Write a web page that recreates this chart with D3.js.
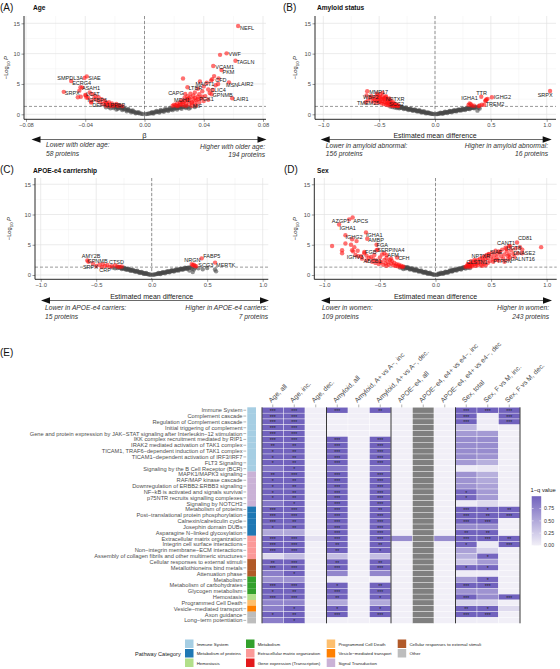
<!DOCTYPE html>
<html><head><meta charset="utf-8">
<script src="https://cdn.jsdelivr.net/npm/d3@7"></script>
<style>body{margin:0;background:#fff}svg{display:block}</style>
</head><body><svg id="c" width="560" height="669"></svg>
<script>
// ================= DATA =================
// Panel A: Age (beta, -log10 P)
const ageGrey = [[-0.001,0.03],[-0.002,0.08],[-0.003,0.15],[-0.004,0.2],[-0.005,0.28],[-0.006,0.3],[-0.007,0.42],[-0.008,0.45],[-0.009,0.55],[-0.010,0.6],[-0.011,0.7],[-0.012,0.72],[-0.013,0.85],[-0.014,0.88],[-0.015,0.95],[-0.016,1.0],[-0.017,1.1],[-0.018,1.15],[-0.019,1.2],[-0.020,1.25],[-0.021,1.28],[-0.006,0.18],[-0.009,0.35],[-0.012,0.5],[-0.015,0.7],[-0.018,0.9],[-0.021,1.05],[-0.024,1.2],[-0.004,0.35],[-0.008,0.62],[-0.011,0.9],[-0.014,1.12],[-0.016,1.25],[-0.023,1.0],[-0.026,1.15],[-0.019,0.8],
[0.001,0.04],[0.002,0.07],[0.003,0.12],[0.004,0.18],[0.005,0.22],[0.006,0.28],[0.007,0.33],[0.008,0.38],[0.009,0.42],[0.010,0.48],[0.011,0.5],[0.012,0.56],[0.013,0.6],[0.014,0.66],[0.015,0.7],[0.016,0.74],[0.017,0.8],[0.018,0.84],[0.019,0.9],[0.020,0.94],[0.021,1.0],[0.022,1.03],[0.023,1.08],[0.024,1.12],[0.025,1.17],[0.026,1.2],[0.027,1.25],[0.028,1.28],[0.005,0.35],[0.008,0.55],[0.011,0.72],[0.014,0.9],[0.017,1.05],[0.020,1.2],[0.023,1.28],[0.006,0.12],[0.010,0.3],[0.013,0.42],[0.016,0.55],[0.019,0.68],[0.022,0.8],[0.025,0.92],[0.028,1.02],[0.031,1.12],[0.034,1.2],[0.030,0.95],[0.029,1.22]];
const ageRed = [[0.019,1.4],[0.020,1.6],[0.021,1.5],[0.022,1.8],[0.023,1.45],[0.024,2.0],[0.025,1.7],[0.025,2.3],[0.026,1.5],[0.027,2.1],[0.027,2.7],[0.028,1.8],[0.029,2.4],[0.029,3.0],[0.030,1.6],[0.030,2.2],[0.031,2.8],[0.031,3.4],[0.032,2.0],[0.033,2.5],[0.033,3.1],[0.034,1.9],[0.034,3.6],[0.035,2.3],[0.036,2.9],[0.036,4.2],[0.037,3.3],[0.038,2.6],[0.039,3.8],[0.040,4.6],[0.041,3.0],[0.042,5.2],[0.044,3.5],[0.045,5.6],[0.047,6.3],[0.048,4.8],[0.050,5.9],[0.026,5.9],[0.051,9.8],[0.040,2.2],[0.035,1.5],[0.032,1.4],[0.022,1.35],[0.024,1.6],[0.028,1.4],[0.030,2.6],[0.026,2.0],[0.034,2.7],[0.037,2.0],[0.039,2.9],[0.043,2.4],[0.046,4.0],
[-0.015,1.35],[-0.017,1.5],[-0.018,1.4],[-0.019,1.7],[-0.020,1.55],[-0.021,1.4],[-0.022,1.8],[-0.023,1.6],[-0.024,2.0],[-0.025,1.5],[-0.026,1.9],[-0.027,2.2],[-0.028,1.7],[-0.029,2.5],[-0.030,2.0],[-0.031,2.8],[-0.032,2.3],[-0.033,3.0],[-0.034,2.6],[-0.035,3.3],[-0.036,2.1],[-0.037,3.6],[-0.040,3.2],[-0.042,4.4],[-0.043,2.9],[-0.044,3.9],[-0.045,2.8],[-0.038,2.7],[-0.023,1.35],[-0.026,1.45]];
const ageLabelled = [["NEFL",0.0632,14.55],["VWF",0.0554,10.05],["TAGLN",0.0614,8.83],["VCAM1",0.0464,7.96],["PKM",0.052,7.3],["LAIR2",0.057,5.27],["CFD",0.0457,5.77],["MSN",0.0497,5.0],["MAGT1",0.0374,5.4],["LTBR",0.029,4.45],["CLIC4",0.043,4.1],["GPNMB",0.0453,3.3],["PGK1",0.0359,2.5],["LAIR1",0.0592,2.65],["MIF",0.0319,1.9],["CAPG",0.0275,3.35],["MDH1",0.0285,2.5],
["SMPDL3A",-0.0405,6.0],["SIAE",-0.039,6.25],["ECRG4",-0.0495,5.5],["ASAH1",-0.0432,4.45],["SRPX",-0.0545,3.7],["LCAT",-0.0395,3.1],["IGFBP6",-0.0392,2.75],["DEFA1",-0.036,1.95],["PPBP",-0.025,1.8]];

// Panel B: Amyloid status (estimated mean difference, -log10 P)
const amyGrey = [[-0.01,0.03],[-0.02,0.07],[-0.03,0.1],[-0.04,0.14],[-0.05,0.17],[-0.06,0.2],[-0.07,0.25],[-0.08,0.28],[-0.09,0.32],[-0.10,0.35],[-0.11,0.4],[-0.12,0.42],[-0.13,0.47],[-0.14,0.5],[-0.15,0.54],[-0.16,0.57],[-0.17,0.62],[-0.18,0.64],[-0.19,0.69],[-0.20,0.72],[-0.21,0.76],[-0.22,0.8],[-0.23,0.84],[-0.24,0.86],[-0.25,0.9],[-0.26,0.95],[-0.27,0.98],[-0.28,1.02],[-0.29,1.06],[-0.30,1.1],[-0.31,1.13],[-0.32,1.18],[-0.33,1.21],[-0.34,1.25],[-0.35,1.28],[-0.06,0.3],[-0.10,0.5],[-0.14,0.66],[-0.18,0.82],[-0.22,0.98],[-0.26,1.12],[-0.30,1.25],[-0.08,0.15],[-0.12,0.3],[-0.16,0.45],[-0.20,0.58],[-0.24,0.72],[-0.28,0.88],[-0.32,1.0],[-0.36,1.12],[-0.38,1.2],[-0.40,1.27],[-0.34,1.05],
[0.01,0.03],[0.02,0.06],[0.03,0.09],[0.04,0.13],[0.05,0.16],[0.06,0.19],[0.07,0.22],[0.08,0.26],[0.09,0.29],[0.10,0.32],[0.11,0.36],[0.12,0.38],[0.13,0.42],[0.14,0.45],[0.15,0.48],[0.16,0.52],[0.17,0.55],[0.18,0.58],[0.19,0.61],[0.20,0.64],[0.21,0.68],[0.22,0.7],[0.23,0.74],[0.24,0.77],[0.25,0.8],[0.26,0.84],[0.27,0.86],[0.28,0.9],[0.29,0.93],[0.30,0.96],[0.31,1.0],[0.32,1.02],[0.33,1.06],[0.34,1.1],[0.35,1.12],[0.36,1.16],[0.37,1.2],[0.05,0.28],[0.09,0.42],[0.13,0.55],[0.17,0.68],[0.21,0.82],[0.25,0.95],[0.29,1.08],[0.33,1.2],[0.07,0.1],[0.11,0.22],[0.15,0.35],[0.19,0.48],[0.23,0.6],[0.27,0.72],[0.31,0.85],[0.35,0.98],[0.39,1.1],[0.40,0.95],[0.38,0.6]];
const amyRed = [[-0.55,2.6],[-0.53,2.9],[-0.52,2.3],[-0.51,3.1],[-0.50,2.7],[-0.50,2.0],[-0.49,3.3],[-0.48,2.5],[-0.48,1.8],[-0.47,2.9],[-0.47,2.2],[-0.46,2.6],[-0.46,1.7],[-0.45,2.4],[-0.45,2.0],[-0.44,2.8],[-0.44,1.6],[-0.43,2.2],[-0.43,1.8],[-0.42,2.5],[-0.42,1.5],[-0.41,2.0],[-0.41,1.7],[-0.40,2.3],[-0.40,1.5],[-0.39,1.9],[-0.39,1.6],[-0.38,2.1],[-0.38,1.4],[-0.37,1.7],[-0.37,1.5],[-0.36,1.8],[-0.36,1.4],[-0.35,1.6],[-0.34,1.45],[-0.33,1.5],[-0.33,1.35],[-0.56,2.1],[-0.54,2.4],[-0.58,2.7],[-0.60,2.3],[-0.62,2.0],[-0.53,1.9],[-0.51,2.5],[-0.49,2.8],[-0.57,3.0],[-0.52,3.4],[-0.47,3.5],[-0.44,3.0],[-0.41,2.6],
[0.33,1.45],[0.30,1.55],[0.32,1.65],[0.40,1.45],[0.39,1.35],[0.455,2.3],[0.47,2.55],[0.46,2.45],[0.45,2.2],[0.42,1.6],[0.35,1.4]];
const amyLabelled = [["MMP17",-0.607,3.8],["WBP2",-0.613,3.1],["TMEM25",-0.49,2.1],["NPTXR",-0.449,2.65],["SCG2",-0.42,1.9],["IGHA1",0.31,1.8],["TTR",0.414,2.9],["IGHG2",0.509,2.8],["TREM2",0.44,1.55],["SRPX",1.03,3.85]];

// Panel C: APOE-e4 carriership
const apoeGrey = [[-0.01,0.04],[-0.02,0.08],[-0.03,0.13],[-0.04,0.17],[-0.05,0.21],[-0.06,0.26],[-0.07,0.3],[-0.08,0.34],[-0.09,0.39],[-0.10,0.43],[-0.11,0.47],[-0.12,0.52],[-0.13,0.56],[-0.14,0.6],[-0.15,0.65],[-0.16,0.69],[-0.17,0.73],[-0.18,0.78],[-0.19,0.82],[-0.20,0.86],[-0.21,0.9],[-0.22,0.95],[-0.23,0.99],[-0.24,1.03],[-0.25,1.08],[-0.26,1.12],[-0.27,1.16],[-0.28,1.21],[-0.29,1.25],[-0.30,1.28],[-0.05,0.35],[-0.09,0.52],[-0.13,0.7],[-0.17,0.88],[-0.21,1.05],[-0.25,1.22],[-0.07,0.18],[-0.11,0.35],[-0.15,0.52],[-0.19,0.68],[-0.23,0.85],[-0.27,1.0],[-0.31,1.15],[-0.33,1.1],[-0.35,1.22],
[0.01,0.04],[0.02,0.07],[0.03,0.11],[0.04,0.14],[0.05,0.18],[0.06,0.22],[0.07,0.25],[0.08,0.29],[0.09,0.32],[0.10,0.36],[0.11,0.4],[0.12,0.43],[0.13,0.47],[0.14,0.5],[0.15,0.54],[0.16,0.58],[0.17,0.61],[0.18,0.65],[0.19,0.68],[0.20,0.72],[0.21,0.76],[0.22,0.79],[0.23,0.83],[0.24,0.86],[0.25,0.9],[0.26,0.94],[0.27,0.97],[0.28,1.01],[0.29,1.04],[0.30,1.08],[0.31,1.12],[0.32,1.15],[0.33,1.19],[0.34,1.22],[0.35,1.26],[0.06,0.32],[0.10,0.48],[0.14,0.62],[0.18,0.78],[0.22,0.92],[0.26,1.06],[0.30,1.2],[0.08,0.16],[0.12,0.3],[0.16,0.44],[0.20,0.58],[0.24,0.72],[0.28,0.86],[0.32,1.0],[0.36,1.1],[0.38,0.9],[0.39,1.2],[0.42,1.1],[0.46,0.95],[0.50,1.15],[0.57,0.9],[0.58,0.6],[0.34,0.75],[0.37,0.5]];
const apoeRed = [[-0.53,1.9],[-0.47,1.7],[-0.44,1.8],[-0.42,1.5],[-0.36,1.45],[-0.33,1.6],[-0.31,1.4],[-0.29,1.35],[-0.27,1.4],[-0.38,1.35],[0.37,1.6],[0.38,1.7],[0.40,1.45]];
const apoeLabelled = [["AMY2B",-0.58,2.4],["GPNMB",-0.57,2.2],["CTSD",-0.40,1.65],["SRPX",-0.50,1.5],["CRP",-0.45,1.3],["NRGN",0.36,1.8],["SCG3",0.39,1.5],["FABP5",0.45,2.75],["MERTK",0.571,2.05]];

// Panel D: Sex
const sexGrey = [[-0.01,0.05],[-0.02,0.09],[-0.03,0.14],[-0.04,0.18],[-0.05,0.23],[-0.06,0.28],[-0.07,0.32],[-0.08,0.37],[-0.09,0.41],[-0.10,0.46],[-0.11,0.5],[-0.12,0.55],[-0.13,0.6],[-0.14,0.64],[-0.15,0.69],[-0.16,0.73],[-0.17,0.78],[-0.18,0.82],[-0.19,0.87],[-0.20,0.92],[-0.21,0.96],[-0.22,1.01],[-0.23,1.05],[-0.24,1.1],[-0.25,1.15],[-0.26,1.19],[-0.27,1.24],[-0.28,1.28],[-0.05,0.38],[-0.09,0.56],[-0.13,0.75],[-0.17,0.94],[-0.21,1.12],[-0.25,1.28],[-0.07,0.18],[-0.11,0.36],[-0.15,0.55],[-0.19,0.72],[-0.23,0.9],[-0.27,1.06],[-0.30,1.18],[-0.32,1.25],[-0.29,0.98],
[0.01,0.05],[0.02,0.09],[0.03,0.14],[0.04,0.19],[0.05,0.23],[0.06,0.28],[0.07,0.33],[0.08,0.37],[0.09,0.42],[0.10,0.47],[0.11,0.51],[0.12,0.56],[0.13,0.61],[0.14,0.65],[0.15,0.7],[0.16,0.75],[0.17,0.8],[0.18,0.84],[0.19,0.89],[0.20,0.94],[0.21,0.98],[0.22,1.03],[0.23,1.08],[0.24,1.12],[0.25,1.17],[0.26,1.22],[0.27,1.26],[0.05,0.37],[0.09,0.55],[0.13,0.74],[0.17,0.93],[0.21,1.1],[0.25,1.27],[0.07,0.2],[0.11,0.38],[0.15,0.56],[0.19,0.74],[0.23,0.92],[0.27,1.08],[0.29,1.2],[0.31,1.15],[0.03,0.25],[0.15,0.85]];
const sexRed = [[-0.93,4.8],[-0.84,4.1],[-0.84,3.6],[-0.76,5.0],[-0.75,4.1],[-0.74,3.9],[-0.72,3.3],[-0.70,4.0],[-0.67,3.1],[-0.64,3.6],[-0.62,3.2],[-0.60,2.8],[-0.58,3.0],[-0.56,2.6],[-0.55,3.3],[-0.53,2.4],[-0.52,4.2],[-0.50,2.9],[-0.49,2.1],[-0.48,3.4],[-0.46,2.5],[-0.45,1.9],[-0.44,2.8],[-0.43,2.2],[-0.42,1.7],[-0.41,2.5],[-0.40,1.9],[-0.39,2.3],[-0.38,1.6],[-0.37,2.0],[-0.36,1.5],[-0.35,1.8],[-0.34,1.45],[-0.33,1.7],[-0.32,1.4],[-0.31,1.55],[-0.30,1.35],[-0.29,1.4],[-0.47,1.7],[-0.51,1.8],[-0.54,2.0],[-0.57,2.2],[-0.62,2.4],[-0.66,2.7],[-0.71,5.6],[-0.75,5.9],[-0.73,4.6],[-0.81,5.2],[-0.46,3.6],[-0.40,2.7],[-0.44,1.5],
[0.27,1.35],[0.28,1.5],[0.29,1.4],[0.30,1.7],[0.31,1.55],[0.32,1.9],[0.33,1.6],[0.34,2.1],[0.35,1.8],[0.36,2.3],[0.37,1.9],[0.38,2.5],[0.39,2.0],[0.40,2.7],[0.41,2.2],[0.42,2.9],[0.43,2.4],[0.44,3.1],[0.45,2.6],[0.46,3.3],[0.47,2.8],[0.48,3.5],[0.49,2.3],[0.50,3.0],[0.51,3.7],[0.52,2.6],[0.53,3.3],[0.54,4.0],[0.55,2.9],[0.56,3.5],[0.57,2.4],[0.58,3.8],[0.59,3.1],[0.60,4.2],[0.61,2.7],[0.62,3.4],[0.63,4.5],[0.64,3.9],[0.65,3.2],[0.66,4.8],[0.67,2.9],[0.68,4.1],[0.70,3.5],[0.71,3.0],[0.72,4.4],[0.76,4.6],[0.78,3.6],[0.31,1.35],[0.33,1.45],[0.36,1.5],[0.38,1.6],[0.41,1.7],[0.44,1.9],[0.47,2.0],[0.52,2.2],[0.57,3.9],[0.62,2.2],[0.35,2.5],[0.42,1.5],[0.29,1.8],[0.45,1.6],[0.95,4.6],[0.78,4.2],[0.74,3.6]];
const sexLabelled = [["AZGP1",-0.776,9.2],["APCS",-0.745,9.5],["IGHA1",-0.867,8.35],["IGHG2",-0.81,6.56],["IGHA1 ",-0.625,7.04],["AMBP",-0.614,5.98],["FGA",-0.53,5.0],["SERPINA4",-0.53,4.1],["IGHV3",-0.695,3.1],["FGB",-0.64,3.8],["AFM",-0.44,3.28],["CFH",-0.345,2.9],["ABCB1",-0.5,2.2],
["CD81",0.733,5.36],["CANT1",0.671,4.75],["UGT8",0.638,4.3],["DNASE2",0.663,3.4],["GALNT16",0.653,2.6],["SIAE",0.48,3.4],["NPTXR",0.32,2.3],["CLSTN1",0.30,1.8],["PTPRN",0.55,2.5]];

const volcanoYTicks = [0, 5, 10, 15];
const ageXTicks = [-0.08, -0.04, 0, 0.04, 0.08];
const diffXTicks = [-1, -0.5, 0, 0.5, 1];

// Panel E: pathway enrichment heatmap
const pathways = ["Immune System","Complement cascade","Regulation of Complement cascade","Initial triggering of complement","Gene and protein expression by JAK\u2212STAT signaling after Interleukin\u221212 stimulation","IKK complex recruitment mediated by RIP1","IRAK2 mediated activation of TAK1 complex","TICAM1, TRAF6\u2212dependent induction of TAK1 complex","TICAM1\u2212dependent activation of IRF3/IRF7","FLT3 Signaling","Signaling by the B Cell Receptor (BCR)","MAPK1/MAPK3 signaling","RAF/MAP kinase cascade","Downregulation of ERBB2:ERBB3 signaling","NF\u2212kB is activated and signals survival","p75NTR recruits signalling complexes","Signaling by NOTCH3","Metabolism of proteins","Post\u2212translational protein phosphorylation","Calnexin/calreticulin cycle","Josephin domain DUBs","Asparagine N\u2212linked glycosylation","Extracellular matrix organization","Integrin cell surface interactions","Non\u2212integrin membrane\u2212ECM interactions","Assembly of collagen fibrils and other multimeric structures","Cellular responses to external stimuli","Metallothioneins bind metals","Attenuation phase","Metabolism","Metabolism of carbohydrates","Glycogen metabolism","Hemostasis","Programmed Cell Death","Vesicle\u2212mediated transport","Axon guidance","Long\u2212term potentiation"];
const pathwayCategory = ["Immune System","Immune System","Immune System","Immune System","Immune System","Immune System","Immune System","Immune System","Immune System","Immune System","Immune System","Signal Transduction","Signal Transduction","Signal Transduction","Signal Transduction","Signal Transduction","Signal Transduction","Metabolism of proteins","Metabolism of proteins","Metabolism of proteins","Metabolism of proteins","Metabolism of proteins","Extracellular matrix organization","Extracellular matrix organization","Extracellular matrix organization","Extracellular matrix organization","Cellular responses to external stimuli","Cellular responses to external stimuli","Cellular responses to external stimuli","Metabolism","Metabolism","Metabolism","Hemostasis","Programmed Cell Death","Vesicle\u2212mediated transport","Other","Other"];
const comparisons = ["Age, all","Age, inc.","Age, dec.","Amyloid, all","Amyloid, A+ vs A\u2212, inc","Amyloid, A+ vs A\u2212, dec.","APOE\u2212e4, all","APOE\u2212e4, e4+ vs e4\u2212, inc","APOE\u2212e4, e4+ vs e4\u2212, dec","Sex, total","Sex, F vs M, inc.","Sex, F vs M, dec."];
// 1 - q value per pathway (rows) x comparison (columns); null = not available
const oneMinusQ = [
[1,1,0,1,0,1,0,null,0,1,1,1],
[1,1,0,0,0,0,0,null,0,1,0.02,1],
[1,1,0,0,0,0,0,null,0,1,0.02,1],
[1,1,0,0,0,0,0,null,0,0.4,0,0],
[1,1,0,0,0,0,0,null,0,0.6,0.6,0],
[1,1,0,1,0,1,0,null,0,0.7,0.7,0],
[1,1,0,1,0,1,0,null,0,0.7,0.7,0],
[1,1,0,1,0,1,0,null,0,0.7,0.7,0],
[1,1,0,1,0,1,0,null,0,0.7,0.65,0],
[1,1,0,1,0,1,0,null,0,0.6,0.45,0],
[0.85,1,0,0.85,0,0.85,0,null,0,0.02,0.05,0],
[1,1,0,1,0,1,0,null,0,0.65,0.45,0],
[1,1,0,1,0,1,0,null,0,0.65,0.5,0],
[1,1,0,1,0,1,0,null,0,0.65,0.55,0],
[1,1,0,1,0,1,0,null,0,0.97,0.6,0],
[1,1,0,1,0,1,0,null,0,0.97,0.6,0],
[0.85,1,0,1,0,1,0,null,0,0.03,0.15,0],
[1,1,0,1,0,1,0,null,0,1,0.97,0.99],
[1,1,0,1,0,1,0,null,0,1,1,1],
[1,1,0,1,0,1,0,null,0,1,1,0],
[1,1,0,1,0,1,0,null,0,0.7,0.7,0],
[0.5,0.5,0,1,0,1,0,null,0,1,1,0],
[1,1,0.1,1,0,1,0.7,null,0.7,1,1,0.99],
[1,1,0,1,0,1,0,null,0,0.97,0.03,1],
[1,1,0,1,0,1,0,null,0,0.55,0.2,0],
[0.15,0.35,0,0.35,0,0.35,0,null,0,0.45,0.97,0],
[1,1,0,1,0,1,0,null,0,0.3,0.6,0],
[1,1,0,1,0,1,0,null,0,0.97,0.97,0],
[0.8,1,0,0.75,0,0.75,0,null,0,0.02,0.02,0],
[0.65,0.65,0,0.02,0,0.02,0,null,0,0.6,0.97,0],
[1,1,0,1,0,1,0,null,0,1,1,0],
[1,1,0,1,0,1,0,null,0,0.65,0.65,0],
[1,1,0,1,0,1,0,null,0,1,0.7,1],
[0.75,0.75,0,0.5,0,0.5,0,null,0,0.2,0.2,0],
[0.8,1,0,1,0,1,0,null,0,1,1,0.15],
[1,1,0,1,0,1,0,null,0,1,1,0],
[0.8,1,0,0,0,0,0,null,0,0.02,0.02,0]];
const stars = [
"***|***||***||**||||***|***|***",
"***|***||||||||***||***",
"***|***||||||||***||***",
"***|***||||||||||",
"***|***||||||||||",
"***|***||***||***||||||",
"**|**||***||***||||||",
"*|**||***||***||||||",
"*|**||***||***||||||",
"*|**||***||***||||||",
"|*||||||||||",
"**|***||***||***||||||",
"*|**||***||***||||||",
"*|**||***||***||||||",
"*|**||***||***||||*||",
"*|**||***||***||||*||",
"|*||***||***||||||",
"***|***||***||**||||***|*|**",
"***|***||***||***||||***|**|***",
"***|**||***||***||||***|***|",
"*|**||***||***||||||",
"|||***||***||||**|**|",
"***|***||***||***||||***|***|**",
"***|***||**||**||||*||***",
"***|***||**||*||||||",
"||||||||||*|",
"**|***||**||**||||||",
"***|***||***||***||||*|*|",
"|*||||||||||",
"||||||||||*|",
"***|***||*||**||||***|***|",
"*|**||***||***||||||",
"***|***||**||*||||***||***",
"||||||||||||",
"|*||*||*||||**|*|",
"*|**||***||***||||***|***|",
"|*||||||||||"];
const categoryNames = ["Immune System","Metabolism of proteins","Hemostasis","Metabolism","Extracellular matrix organization","Gene expression (Transcription)","Programmed Cell Death","Vesicle\u2212mediated transport","Signal Transduction","Cellular responses to external stimuli","Other"];
const categoryColors = ["#a6cee3","#1f78b4","#b2df8a","#33a02c","#fb9a99","#e31a1c","#fdbf6f","#ff7f00","#cab2d6","#b15928","#bdbdbd"];
const qLegendTicks = [0, 0.25, 0.5, 0.75];

// ================= LAYOUT =================
const FF = '"Liberation Sans", Arial, Helvetica, sans-serif';
const svg = d3.select("#c");

const panelLayouts = [
 {tag:"(A)", title:"Age", grey:ageGrey, red:ageRed, lab:ageLabelled, ticks:ageXTicks, fmt:d3.format(".2f"), xlab:"\u03b2",
  lower:["Lower with older age:","58 proteins"], higher:["Higher with older age:","194 proteins"],
  L:{left:24,right:266,xd:[-0.08,0.08],xr:[26,263],y0:114.3,y15:23.3,top:16,bottom:119.3,tagX:0,tagY:11,titleX:33,titleY:9.5,ylabX:8,xlabY:137.5,arrowY:139.5,ax0:31.5,ax1:266.5,lowX:46,lowY:[146.8,155.5],highX:265,highY:[148.5,157]},
  off:{NEFL:[2,3.5,"s"],VWF:[2,3,"s"],TAGLN:[1,3.5,"s"],VCAM1:[2,3,"s"],PKM:[1,4,"s"],LAIR2:[9,4,"s"],CFD:[3,3,"s"],MSN:[8,3.5,"s"],MAGT1:[14.5,4,"e"],LTBR:[1,3,"s"],CLIC4:[2,3,"s"],GPNMB:[1,3,"s"],PGK1:[1.5,2,"s"],LAIR1:[1,3,"s"],MIF:[1,5,"s"],CAPG:[-1.5,1.5,"e"],MDH1:[3,3,"e"],SMPDL3A:[-1.5,2.5,"e"],SIAE:[1.5,4,"s"],ECRG4:[1,4,"s"],ASAH1:[1.5,3,"s"],SRPX:[1,3.5,"s"],LCAT:[0,0.8,"s"],IGFBP6:[1,4.6,"s"],DEFA1:[1,4.6,"s"],PPBP:[3,3.2,"s"]}},
 {tag:"(B)", title:"Amyloid status", grey:amyGrey, red:amyRed, lab:amyLabelled, ticks:diffXTicks, fmt:d3.format(".1f"), xlab:"Estimated mean difference",
  lower:["Lower in amyloid abnormal:","156 proteins"], higher:["Higher in amyloid abnormal:","16 proteins"],
  L:{left:315,right:556,xd:[-1,1],xr:[323.3,546.7],y0:114.3,y15:23.3,top:16,bottom:119.3,tagX:283,tagY:11,titleX:317,titleY:9.5,ylabX:297,xlabY:137.5,arrowY:139.5,ax0:320.7,ax1:551.7,lowX:325.7,lowY:[147.5,156],highX:548,highY:[147.5,156]},
  off:{MMP17:[2,3,"s"],WBP2:[-3.5,3.8,"s"],TMEM25:[-1,3,"e"],NPTXR:[1,3,"s"],SCG2:[1,3,"s"],IGHA1:[-8.3,-3.3,"s"],TTR:[-5,-2.2,"s"],IGHG2:[2,1.2,"s"],TREM2:[1.5,1,"s"],SRPX:[-12.4,5.8,"s"]}},
 {tag:"(C)", title:"APOE-e4 carriership", grey:apoeGrey, red:apoeRed, lab:apoeLabelled, ticks:diffXTicks, fmt:d3.format(".1f"), xlab:"Estimated mean difference",
  lower:["Lower in APOE-e4 carriers:","15 proteins"], higher:["Higher in APOE-e4 carriers:","7 proteins"],
  L:{left:35,right:268.3,xd:[-1,1],xr:[40.7,262.7],y0:275,y15:184.25,top:178,bottom:279.3,tagX:0,tagY:173,titleX:33,titleY:172.5,ylabX:11,xlabY:298.5,arrowY:300.5,ax0:41,ax1:269,lowX:45,lowY:[309.5,318.5],highX:268,highY:[309.5,318.5]},
  off:{AMY2B:[-5.6,-2.2,"s"],GPNMB:[-1,1.8,"s"],CTSD:[1.7,-1.5,"s"],SRPX:[-13.3,3,"s"],CRP:[-2.4,5,"s"],NRGN:[-7.4,-2,"s"],SCG3:[3.3,1.5,"s"],FABP5:[1.6,0,"s"],MERTK:[1,4,"s"]}},
 {tag:"(D)", title:"Sex", grey:sexGrey, red:sexRed, lab:sexLabelled, ticks:diffXTicks, fmt:d3.format(".1f"), xlab:"Estimated mean difference",
  lower:["Lower in women:","109 proteins"], higher:["Higher in women:","243 proteins"],
  L:{left:314.3,right:556.7,xd:[-1,1],xr:[324.3,546.7],y0:275,y15:184.25,top:178,bottom:279.3,tagX:284,tagY:173,titleX:317,titleY:172.5,ylabX:297,xlabY:298.5,arrowY:300.5,ax0:321,ax1:552,lowX:322,lowY:[309.5,318.5],highX:549,highY:[309.5,318.5]},
  off:{AZGP1:[0.7,3.3,"e"],APCS:[0.6,5.3,"s"],IGHA1:[0.3,5.5,"s"],IGHG2:[0,3.5,"s"],"IGHA1 ":[0,4.2,"s"],AMBP:[1,2.9,"s"],FGA:[0,2.6,"s"],SERPINA4:[0.7,1.8,"s"],IGHV3:[-11.5,2.3,"s"],FGB:[0.7,1.8,"s"],AFM:[0.7,1.5,"s"],CFH:[1,2.7,"s"],ABCB1:[1.7,1.8,"e"],CD81:[1,-3,"s"],CANT1:[5,-1.5,"e"],UGT8:[0,1.2,"s"],DNASE2:[4,0.9,"s"],GALNT16:[2.3,2.2,"s"],SIAE:[1,-0.8,"s"],NPTXR:[0.5,-3,"s"],CLSTN1:[-2.3,0,"s"],PTPRN:[-3.5,2.9,"s"]}}
];

function txt(g, x, y, s, o) {
  o = o || {};
  return g.append("text").attr("x", x).attr("y", y).text(s)
    .attr("font-family", FF).attr("font-size", o.size || 6)
    .attr("fill", o.fill || "#222").attr("text-anchor", o.anchor || "start")
    .attr("font-weight", o.weight || "normal").attr("font-style", o.style || "normal");
}

function volcano(P) {
  const L = P.L;
  const g = svg.append("g");
  const x = d3.scaleLinear().domain(L.xd).range(L.xr);
  const y = d3.scaleLinear().domain([0, 15]).range([L.y0, L.y15]);
  const minorX = d3.pairs(P.ticks).map(d => (d[0] + d[1]) / 2);
  const minorY = d3.pairs(volcanoYTicks).map(d => (d[0] + d[1]) / 2);
  g.selectAll(".mx").data(minorX).join("line").attr("x1", d => x(d)).attr("x2", d => x(d))
    .attr("y1", L.top).attr("y2", L.bottom).attr("stroke", "#f1f1f1").attr("stroke-width", 0.5);
  g.selectAll(".my").data(minorY).join("line").attr("y1", d => y(d)).attr("y2", d => y(d))
    .attr("x1", L.left).attr("x2", L.right).attr("stroke", "#f1f1f1").attr("stroke-width", 0.5);
  g.selectAll(".Mx").data(P.ticks).join("line").attr("x1", d => x(d)).attr("x2", d => x(d))
    .attr("y1", L.top).attr("y2", L.bottom).attr("stroke", "#e2e2e2").attr("stroke-width", 0.7);
  g.selectAll(".My").data(volcanoYTicks).join("line").attr("y1", d => y(d)).attr("y2", d => y(d))
    .attr("x1", L.left).attr("x2", L.right).attr("stroke", "#e2e2e2").attr("stroke-width", 0.7);
  g.append("line").attr("x1", x(0)).attr("x2", x(0)).attr("y1", L.top).attr("y2", L.bottom)
    .attr("stroke", "#555").attr("stroke-width", 0.6).attr("stroke-dasharray", "3,2");
  const thr = -Math.log10(0.05);
  g.append("line").attr("x1", L.left).attr("x2", L.right).attr("y1", y(thr)).attr("y2", y(thr))
    .attr("stroke", "#555").attr("stroke-width", 0.6).attr("stroke-dasharray", "3,2");
  g.selectAll(".gp").data(P.grey).join("circle").attr("cx", d => x(d[0])).attr("cy", d => y(d[1]))
    .attr("r", 2.2).attr("fill", "#474747").attr("fill-opacity", 0.6);
  const reds = P.red.concat(P.lab.map(d => [d[1], d[2]]));
  g.selectAll(".rp").data(reds).join("circle").attr("cx", d => x(d[0])).attr("cy", d => y(d[1]))
    .attr("r", 2.2).attr("fill", "#ff1010").attr("fill-opacity", 0.6);
  P.lab.forEach(d => {
    const o = P.off[d[0]] || [1, 3, "s"];
    txt(g, x(d[1]) + o[0], y(d[2]) + o[1], d[0].trim(), {size: 5.5, anchor: o[2] === "e" ? "end" : "start", fill: "#1a1a1a"});
  });
  const axB = g.append("g").attr("transform", `translate(0,${L.bottom})`)
    .call(d3.axisBottom(x).tickValues(P.ticks).tickFormat(P.fmt).tickSize(2.5).tickPadding(1.5));
  const axL = g.append("g").attr("transform", `translate(${L.left},0)`)
    .call(d3.axisLeft(y).tickValues(volcanoYTicks).tickSize(2.5).tickPadding(1.5));
  [axB, axL].forEach(a => {
    a.select(".domain").remove();
    a.selectAll("line").attr("stroke", "#333").attr("stroke-width", 0.5);
    a.selectAll("text").attr("font-size", 5.8).attr("fill", "#4d4d4d").attr("font-family", FF);
  });
  g.append("line").attr("x1", L.left).attr("x2", L.left).attr("y1", L.top).attr("y2", L.bottom).attr("stroke", "#111").attr("stroke-width", 0.9);
  g.append("line").attr("x1", L.left).attr("x2", L.right).attr("y1", L.bottom).attr("y2", L.bottom).attr("stroke", "#111").attr("stroke-width", 0.9);
  txt(g, L.tagX, L.tagY, P.tag, {size: 10, fill: "#111"});
  txt(g, L.titleX, L.titleY, P.title, {size: 6.6, weight: "bold", fill: "#111"});
  const yl = g.append("text").attr("transform", `translate(${L.ylabX},${(L.top + L.bottom) / 2}) rotate(-90)`)
    .attr("text-anchor", "middle").attr("font-family", FF).attr("font-size", 5.8).attr("fill", "#222");
  yl.append("tspan").text("\u2212Log");
  yl.append("tspan").text("10").attr("font-size", 4.2).attr("dy", 1.5);
  yl.append("tspan").text(" P").attr("font-style", "italic").attr("dy", -1.5);
  txt(g, x(0), L.xlabY, P.xlab, {size: P.xlab.length > 2 ? 7 : 7.5, anchor: "middle"});
  g.append("line").attr("x1", L.ax0 + 6).attr("x2", L.ax1 - 6).attr("y1", L.arrowY).attr("y2", L.arrowY)
    .attr("stroke", "#444").attr("stroke-width", 0.8);
  g.append("path").attr("d", `M${L.ax0},${L.arrowY}L${L.ax0 + 9},${L.arrowY - 3.3}L${L.ax0 + 9},${L.arrowY + 3.3}Z`).attr("fill", "#111");
  g.append("path").attr("d", `M${L.ax1},${L.arrowY}L${L.ax1 - 9},${L.arrowY - 3.3}L${L.ax1 - 9},${L.arrowY + 3.3}Z`).attr("fill", "#111");
  txt(g, L.lowX, L.lowY[0], P.lower[0], {size: 6.7, style: "italic", fill: "#333"});
  txt(g, L.lowX, L.lowY[1], P.lower[1], {size: 6.7, style: "italic", fill: "#333"});
  txt(g, L.highX, L.highY[0], P.higher[0], {size: 6.7, style: "italic", fill: "#333", anchor: "end"});
  txt(g, L.highX, L.highY[1], P.higher[1], {size: 6.7, style: "italic", fill: "#333", anchor: "end"});
}
panelLayouts.forEach(volcano);

// ================= HEATMAP =================
(function heatmap() {
  const g = svg.append("g");
  const hx = d3.scaleBand().domain(comparisons).range([262, 520]);
  const hy = d3.scaleBand().domain(pathways).range([407.3, 623.3]);
  const col = d3.scaleLinear().domain([0, 1]).range(["#f1eff7", "#7162bd"]);
  const catCol = d3.scaleOrdinal().domain(categoryNames).range(categoryColors);
  txt(g, 0, 356, "(E)", {size: 10, fill: "#111"});
  const cells = [];
  pathways.forEach((p, i) => comparisons.forEach((c, j) => cells.push({p, c, v: oneMinusQ[i][j], s: stars[i].split("|")[j] || ""})));
  g.selectAll(".cell").data(cells).join("rect")
    .attr("x", d => hx(d.c)).attr("y", d => hy(d.p)).attr("width", hx.bandwidth()).attr("height", hy.bandwidth())
    .attr("fill", d => d.v === null ? "#7f7f7f" : col(d.v)).attr("stroke", "#fff").attr("stroke-width", 0.35);
  g.selectAll(".star").data(cells.filter(d => d.s)).join("text")
    .attr("x", d => hx(d.c) + hx.bandwidth() / 2).attr("y", d => hy(d.p) + hy.bandwidth() / 2 + 2.6)
    .attr("text-anchor", "middle").attr("font-family", FF).attr("font-size", 5).attr("fill", "#222").text(d => d.s);
  [0, 3, 6, 9, 12].forEach(k => {
    const xx = k < 12 ? hx(comparisons[k]) : hx(comparisons[11]) + hx.bandwidth();
    g.append("line").attr("x1", xx).attr("x2", xx).attr("y1", 407.3).attr("y2", 623.3).attr("stroke", "#222").attr("stroke-width", 0.9);
  });
  g.selectAll(".strip").data(pathways).join("rect").attr("x", 247.3).attr("width", 8.7)
    .attr("y", d => hy(d)).attr("height", hy.bandwidth() + 0.1).attr("fill", (d, i) => catCol(pathwayCategory[i]));
  g.selectAll(".rl").data(pathways).join("text").attr("x", 242.5).attr("y", d => hy(d) + hy.bandwidth() / 2 + 2)
    .attr("text-anchor", "end").attr("font-family", FF).attr("font-size", 5.7).attr("fill", "#4d4d4d").text(d => d);
  g.selectAll(".rt").data(pathways).join("line").attr("x1", 243.4).attr("x2", 246.2)
    .attr("y1", d => hy(d) + hy.bandwidth() / 2).attr("y2", d => hy(d) + hy.bandwidth() / 2).attr("stroke", "#555").attr("stroke-width", 0.45);
  g.selectAll(".ct").data(comparisons).join("line").attr("x1", d => hx(d) + hx.bandwidth() / 2).attr("x2", d => hx(d) + hx.bandwidth() / 2)
    .attr("y1", 404.5).attr("y2", 407.3).attr("stroke", "#555").attr("stroke-width", 0.45);
  g.selectAll(".cl").data(comparisons).join("text")
    .attr("transform", d => `translate(${hx(d) + hx.bandwidth() / 2 - 1.5},403) rotate(-45)`)
    .attr("font-family", FF).attr("font-size", 6.8).attr("fill", "#4d4d4d").text(d => d);
  const defs = svg.append("defs");
  const lg = defs.append("linearGradient").attr("id", "qg").attr("x1", 0).attr("y1", 1).attr("x2", 0).attr("y2", 0);
  d3.range(0, 1.01, 0.25).forEach(t => lg.append("stop").attr("offset", t).attr("stop-color", col(t)));
  const cy = d3.scaleLinear().domain([0, 1]).range([545.5, 496.2]);
  txt(g, 530.5, 492, "1\u2212q value", {size: 5.8, fill: "#222"});
  g.append("rect").attr("x", 531.7).attr("y", cy(1)).attr("width", 9.5).attr("height", cy(0) - cy(1)).attr("fill", "url(#qg)");
  qLegendTicks.forEach(t => {
    g.append("line").attr("x1", 531.7).attr("x2", 533.6).attr("y1", cy(t)).attr("y2", cy(t)).attr("stroke", "#fff").attr("stroke-width", 0.5);
    g.append("line").attr("x1", 539.3).attr("x2", 541.2).attr("y1", cy(t)).attr("y2", cy(t)).attr("stroke", "#fff").attr("stroke-width", 0.5);
    txt(g, 544, cy(t) + 1.9, d3.format(".2f")(t), {size: 5.2, fill: "#333"});
  });
  const keyX = [185, 246, 326.7, 397.7];
  const keyY = [639.5, 649, 658.5];
  txt(g, 135, 656, "Pathway Category", {size: 5.6, fill: "#222"});
  categoryNames.forEach((n, i) => {
    const cI = Math.floor(i / 3), rI = i % 3;
    g.append("rect").attr("x", keyX[cI]).attr("y", keyY[rI]).attr("width", 8.5).attr("height", 8.5).attr("fill", categoryColors[i]);
    txt(g, keyX[cI] + 11.7, keyY[rI] + 6.2, n, {size: 4.4, fill: "#222"});
  });
})();
</script></body></html>
